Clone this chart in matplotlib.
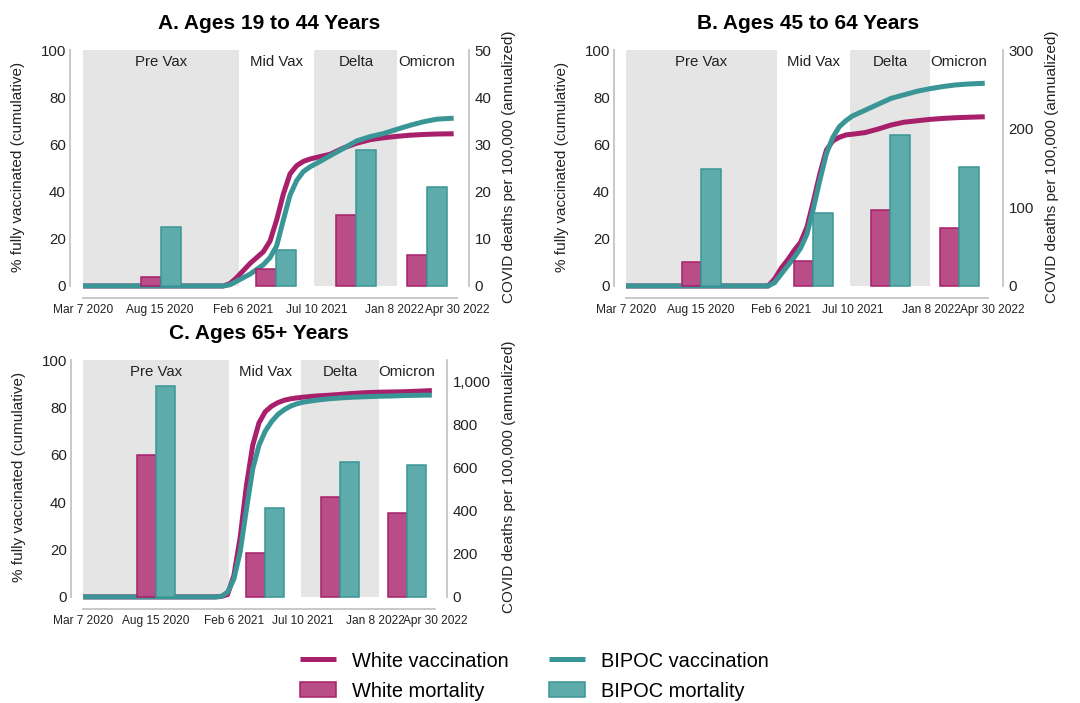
import pandas as pd
import matplotlib
matplotlib.use("Agg")
import matplotlib.pyplot as plt
import matplotlib.transforms as mtransforms
from matplotlib.lines import Line2D
from matplotlib.patches import Patch

plt.rcParams['font.family'] = ['Liberation Sans', 'DejaVu Sans']

# ---- data ----
start = pd.Timestamp('2020-03-07')
end = pd.Timestamp('2022-04-30')

vax_dates = ['2020-03-07', '2020-12-26', '2021-01-09', '2021-01-23', '2021-02-06',
             '2021-02-20', '2021-03-06', '2021-03-20', '2021-04-03', '2021-04-17',
             '2021-05-01', '2021-05-15', '2021-05-29', '2021-06-12', '2021-06-26',
             '2021-07-10', '2021-08-07', '2021-09-04', '2021-10-02', '2021-10-30',
             '2021-11-27', '2021-12-25', '2022-01-22', '2022-02-19', '2022-03-19',
             '2022-04-23']

white_vax_a = [0, 0, 1, 3.5, 6.5, 9.5, 12, 14.5, 19, 28, 39, 47.5, 51, 52.8, 53.8,
               54.5, 55.8, 58.5, 60.5, 62, 62.8, 63.4, 63.9, 64.2, 64.4, 64.5]
bipoc_vax_a = [0, 0, 0.5, 2, 3.5, 5, 7, 9, 12, 17, 28, 38.5, 44.7, 48.5, 50.5,
               52, 55.2, 58.3, 61.5, 63.3, 64.6, 66.4, 68.1, 69.6, 70.7, 71.1]
white_vax_b = [0, 0, 0, 3, 7.5, 11, 15, 18.5, 25, 36, 47.7, 57.6, 61.5, 63, 64,
               64.3, 65, 66.5, 68.2, 69.4, 70, 70.6, 71, 71.3, 71.5, 71.7]
bipoc_vax_b = [0, 0, 0, 1.5, 5, 8.5, 12, 16, 22, 33, 45, 56, 63, 67.5, 70,
               72, 74.5, 77, 79.5, 81, 82.5, 83.6, 84.5, 85.2, 85.6, 85.9]
white_vax_c = [0, 0, 0.2, 1, 9, 25, 47, 64, 73.5, 78.2, 80.5, 82, 83, 83.6, 84,
               84.3, 84.8, 85.1, 85.5, 85.9, 86.2, 86.4, 86.5, 86.6, 86.8, 87.1]
bipoc_vax_c = [0, 0, 0.2, 2, 7.5, 19, 37, 54, 64, 70, 74, 77, 79, 80.5, 81.5,
               82.2, 83, 83.6, 84, 84.3, 84.5, 84.7, 84.8, 85, 85.1, 85.2]

# COVID deaths per 100,000 (annualized), one value per period
white_mort_a = [2.0, 3.7, 15.1, 6.6]
bipoc_mort_a = [12.4, 7.7, 28.8, 21.0]
white_mort_b = [31, 32, 97, 74]
bipoc_mort_b = [149, 93, 192, 151]
white_mort_c = [662, 203, 467, 392]
bipoc_mort_c = [981, 415, 628, 615]

period_names = ['Pre Vax', 'Mid Vax', 'Delta', 'Omicron']
period_edges = ['2020-03-07', '2021-01-27', '2021-07-05', '2021-12-26', '2022-04-30']
period_shaded = [True, False, True, False]

tick_dates = ['2020-03-07', '2020-08-15', '2021-02-06', '2021-07-10', '2022-01-08', '2022-04-30']
tick_labels = ['Mar 7 2020', 'Aug 15 2020', 'Feb 6 2021', 'Jul 10 2021', 'Jan 8 2022', 'Apr 30 2022']

titles = ['A. Ages 19 to 44 Years', 'B. Ages 45 to 64 Years', 'C. Ages 65+ Years']

# ---- style ----
WHITE_LINE = '#a81f6b'
WHITE_BAR = '#b84d87'
BIPOC_LINE = '#3a9696'
BIPOC_BAR = '#5eabac'
SHADE = '#e5e5e5'
SPINE = '#c4c4c4'
TXT = '#222222'

W, H = 1080, 703
fig = plt.figure(figsize=(W / 100, H / 100), dpi=100)


def days(d):
    return (pd.to_datetime(d) - start).days


total = days(end)


def shift(label, px):
    label.set_transform(label.get_transform()
                        + mtransforms.ScaledTranslation(px / 100, 0, fig.dpi_scale_trans))


def panel(box, data_px, title, wv, bv, wm, bm, rmax, rticks, shifts, rlab_off):
    left, top, right, bottom = box
    ax = fig.add_axes([left / W, 1 - bottom / H, (right - left) / W, (bottom - top) / H])
    dpp = total / (data_px[1] - data_px[0])
    ax.set_xlim(-(data_px[0] - left) * dpp, total + (right - data_px[1]) * dpp)
    lo = -5.1
    ax.set_ylim(lo, 100)
    ax2 = ax.twinx()
    ax2.set_ylim(lo / 100 * rmax, rmax)

    edges = [days(e) for e in period_edges]
    frac0 = (0 - lo) / (100 - lo)
    for i, name in enumerate(period_names):
        if period_shaded[i]:
            ax.axvspan(edges[i], edges[i + 1], ymin=frac0, ymax=1, color=SHADE, lw=0, zorder=0)
        ax.text((edges[i] + edges[i + 1]) / 2, 95, name, ha='center', va='center',
                fontsize=10.8, color=TXT)

    x = [days(d) for d in vax_dates]
    ax.plot(x, wv, color=WHITE_LINE, lw=3.6, solid_capstyle='butt', zorder=2)
    ax.plot(x, bv, color=BIPOC_LINE, lw=3.6, solid_capstyle='butt', zorder=2)

    bw = 42
    mids = [(edges[i] + edges[i + 1]) / 2 for i in range(len(period_names))]
    ax2.bar([m - bw for m in mids], wm, width=bw, align='edge', color=WHITE_BAR,
            edgecolor=WHITE_LINE, lw=1.1, zorder=3)
    ax2.bar(mids, bm, width=bw, align='edge', color=BIPOC_BAR,
            edgecolor=BIPOC_LINE, lw=1.1, zorder=3)

    for s in ['top', 'right']:
        ax.spines[s].set_visible(False)
    for s in ['top', 'left', 'bottom']:
        ax2.spines[s].set_visible(False)
    ax.spines['left'].set_bounds(0, 100)
    ax.spines['bottom'].set_bounds(0, total)
    ax2.spines['right'].set_bounds(0, rmax)
    for sp in [ax.spines['left'], ax.spines['bottom'], ax2.spines['right']]:
        sp.set_color(SPINE)
        sp.set_linewidth(1.3)

    ax.set_yticks([0, 20, 40, 60, 80, 100])
    ax.tick_params(axis='y', length=0, pad=3, labelsize=10.8, labelcolor=TXT)
    ax2.set_yticks(rticks)
    ax2.set_yticklabels([f'{t:,}' for t in rticks])
    ax2.tick_params(axis='y', length=0, pad=4, labelsize=10.8, labelcolor=TXT)
    ax.set_xticks([days(d) for d in tick_dates])
    ax.set_xticklabels(tick_labels)
    ax.tick_params(axis='x', length=0, pad=4, labelsize=8.6, labelcolor=TXT)
    shift(ax.get_xticklabels()[4], shifts[0])
    shift(ax.get_xticklabels()[5], shifts[1])

    ax.set_ylabel('% fully vaccinated (cumulative)', fontsize=11, color=TXT)
    ax2.set_ylabel('COVID deaths per 100,000 (annualized)', fontsize=11, color=TXT)
    ax.yaxis.set_label_coords(-45 / (right - left), 0.53)
    ax2.yaxis.set_label_coords(1 + rlab_off / (right - left), 0.53)
    ax.set_title(title, fontsize=15, fontweight='bold', pad=15)
    return ax


panel((70, 50, 469, 298), (83, 457), titles[0], white_vax_a, bipoc_vax_a,
      white_mort_a, bipoc_mort_a, 50, [0, 10, 20, 30, 40, 50], (-9, 0), 33)
panel((614, 50, 1003, 298), (626, 988), titles[1], white_vax_b, bipoc_vax_b,
      white_mort_b, bipoc_mort_b, 300, [0, 100, 200, 300], (-5, 4), 42)
panel((71, 360, 447, 609), (83, 435), titles[2], white_vax_c, bipoc_vax_c,
      white_mort_c, bipoc_mort_c, 1102, [0, 200, 400, 600, 800, 1000], (-9, 0), 55)

handles = [
    Line2D([], [], color=WHITE_LINE, lw=3.6, solid_capstyle='butt'),
    Patch(facecolor=WHITE_BAR, edgecolor=WHITE_LINE, lw=1.1),
    Line2D([], [], color=BIPOC_LINE, lw=3.6, solid_capstyle='butt'),
    Patch(facecolor=BIPOC_BAR, edgecolor=BIPOC_LINE, lw=1.1),
]
labels = ['White vaccination', 'White mortality', 'BIPOC vaccination', 'BIPOC mortality']
fig.legend(handles, labels, ncol=2, loc='center', bbox_to_anchor=(0.495, 0.038),
           frameon=False, fontsize=14.4, handlelength=1.8, handleheight=0.8,
           handletextpad=0.8, columnspacing=2.0, labelspacing=0.55)

fig.savefig('out.png', dpi=100)
